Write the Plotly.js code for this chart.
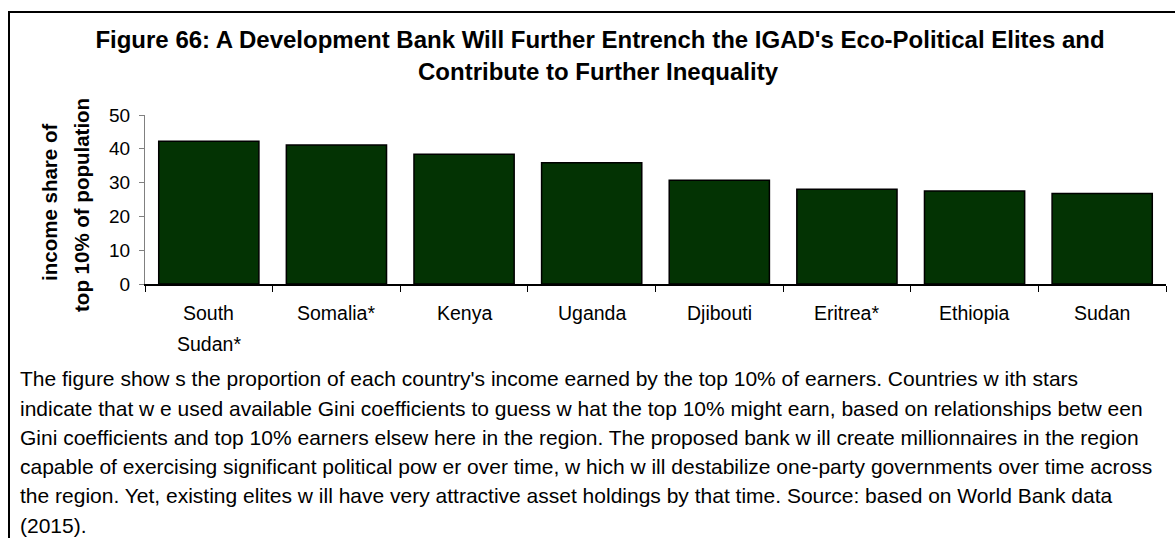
<!DOCTYPE html>
<html>
<head>
<meta charset="utf-8">
<script src="https://cdn.plot.ly/plotly-3.0.1.min.js"></script>
<style>
html,body{margin:0;padding:0;background:#fff;}
#chart{width:1175px;height:540px;}
</style>
</head>
<body>
<div id="chart"></div>
<script>
// ---- data ----
const countries = ["South Sudan*", "Somalia*", "Kenya", "Uganda", "Djibouti", "Eritrea*", "Ethiopia", "Sudan"];
const labelLines = [["South", "Sudan*"], ["Somalia*"], ["Kenya"], ["Uganda"], ["Djibouti"], ["Eritrea*"], ["Ethiopia"], ["Sudan"]];
const topTenShare = [42.2, 41.1, 38.4, 35.9, 30.7, 28.0, 27.5, 26.8];
const yTicks = [0, 10, 20, 30, 40, 50];
const titleLines = ["Figure 66: A Development Bank Will Further Entrench the IGAD's Eco-Political Elites and",
                    "Contribute to Further Inequality"];
const yTitleLines = ["income share of", "top 10% of population"];
const captionLines = [
  "The figure show s the proportion of each country's income earned by the top 10% of earners. Countries w ith stars",
  "indicate that w e used available Gini coefficients to guess w hat the top 10% might earn, based on relationships betw een",
  "Gini coefficients and top 10% earners elsew here in the region. The proposed bank w ill create millionnaires in the region",
  "capable of exercising significant political pow er over time, w hich w ill destabilize one-party governments over time across",
  "the region. Yet, existing elites w ill have very attractive asset holdings by that time. Source: based on World Bank data",
  "(2015)."
];

// ---- layout helpers (pixel -> paper) ----
const L = 145, R = 1166, T = 114.5, B = 284.5;
const W = 1175, H = 540;
const px = x => (x - L) / (R - L);
const py = y => (B - y) / (B - T);
const FONT = "Arial, 'Liberation Sans', sans-serif";

const annotations = [];
// title line 2
annotations.push({xref:'paper', yref:'paper', x: px(598), y: py(71), xanchor:'center', yanchor:'middle',
  text:'<b>' + titleLines[1] + '</b>', showarrow:false, font:{family:FONT, size:24, color:'#000'}});
// y title
annotations.push({xref:'paper', yref:'paper', x: px(50), y: py(203), xanchor:'center', yanchor:'middle', textangle:-90,
  text:'<b>' + yTitleLines[0] + '</b>', showarrow:false, font:{family:FONT, size:20.5, color:'#000'}});
annotations.push({xref:'paper', yref:'paper', x: px(82), y: py(205), xanchor:'center', yanchor:'middle', textangle:-90,
  text:'<b>' + yTitleLines[1] + '</b>', showarrow:false, font:{family:FONT, size:20.5, color:'#000'}});
// x category labels
labelLines.forEach((lines, i) => {
  lines.forEach((t, j) => {
    annotations.push({xref:'x', yref:'paper', x: countries[i], y: py(314 + j * 31), xanchor:'center', yanchor:'middle',
      text: t, showarrow:false, font:{family:FONT, size:19.5, color:'#000'}});
  });
});
// caption
captionLines.forEach((t, j) => {
  annotations.push({xref:'paper', yref:'paper', x: px(18), y: py(380 + j * 29.4), xanchor:'left', yanchor:'middle',
    text: t, showarrow:false, font:{family:FONT, size:21, color:'#000'}});
});

const trace = {
  type: 'bar',
  x: countries,
  y: topTenShare,
  marker: {color: '#033303', line: {color: '#000', width: 1.5}},
  hoverinfo: 'x+y'
};

const layout = {
  width: W, height: H,
  margin: {l: L, r: W - R, t: T, b: H - B, pad: 0},
  paper_bgcolor: '#fff', plot_bgcolor: '#fff',
  showlegend: false,
  bargap: 0.215,
  font: {family: FONT, color: '#000'},
  title: {text: '<b>' + titleLines[0] + '</b>', font: {family: FONT, size: 24, color: '#000'},
          xref: 'container', yref: 'container', x: 600 / W, y: 1 - 40 / H, xanchor: 'center', yanchor: 'middle'},
  xaxis: {
    type: 'category', categoryorder: 'array', categoryarray: countries,
    showticklabels: false, ticks: 'outside', tickson: 'boundaries', ticklen: 6, tickcolor: '#000', tickwidth: 1,
    showline: true, linecolor: '#000', linewidth: 1.5, showgrid: false, zeroline: false, fixedrange: true
  },
  yaxis: {
    range: [0, 50], tickvals: yTicks, ticktext: yTicks.map(String),
    ticks: 'outside', ticklen: 5, tickcolor: '#808080', tickwidth: 1,
    showline: true, linecolor: '#808080', linewidth: 1, showgrid: false, zeroline: false,
    tickfont: {family: FONT, size: 19, color: '#000'}, ticklabelstandoff: 5, fixedrange: true
  },
  annotations: annotations,
  shapes: [
    {type: 'line', xref: 'paper', yref: 'paper', x0: px(8), x1: px(1175), y0: py(11), y1: py(11), line: {color: '#000', width: 2}},
    {type: 'line', xref: 'paper', yref: 'paper', x0: px(9), x1: px(9), y0: py(10), y1: py(540), line: {color: '#000', width: 2}}
  ]
};

Plotly.newPlot('chart', [trace], layout, {displayModeBar: false, staticPlot: true});
</script>
</body>
</html>
